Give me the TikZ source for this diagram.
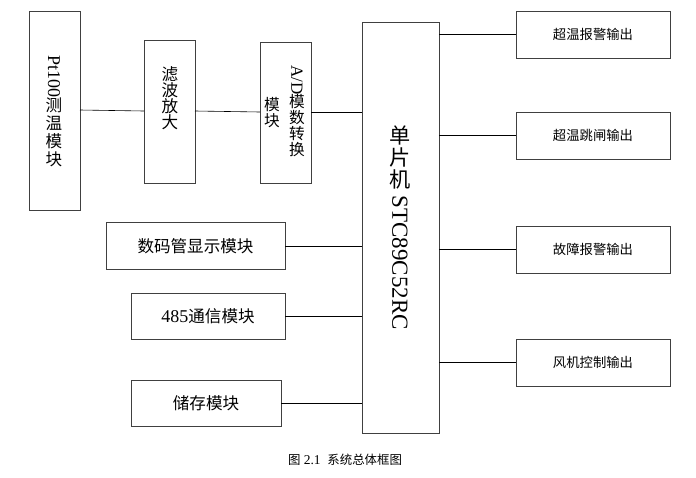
\documentclass[tikz,border=0pt]{standalone}
\usepackage{fontspec}
\setmainfont{Liberation Serif}
\newfontfamily\cjk{Noto Sans CJK SC}[Scale=0.92]
\begin{document}
\begin{tikzpicture}[x=1pt,y=-1pt,
  blk/.style={draw=black!75,line width=0.9pt},
  wire/.style={draw=black,line width=0.6pt},
  lab/.style={inner sep=0pt,font=\fontsize{17}{19}\selectfont,align=center},
  olab/.style={inner sep=0pt,font=\cjk\fontsize{14.5}{15}\selectfont}]
\useasboundingbox (0,0) rectangle (696,477);
% boxes
\draw[blk] (29,11) rectangle (80,210);
\node[lab,font=\fontsize{18}{21}\selectfont] (ptl) at (54,111) {\rotatebox{-90}{Pt100}\\[-1pt]{\cjk 测}\\[-3pt]{\cjk 温}\\[-3pt]{\cjk 模}\\[-3pt]{\cjk 块}};
\draw[blk] (144,40) rectangle (195,183);
\node[lab,font=\cjk\fontsize{18}{20}\selectfont] (fl) at (170,98) {滤\\[-4pt]波\\[-4pt]放\\[-4pt]大};
\draw[blk] (260,42) rectangle (311,183);
\node[lab,font=\fontsize{17}{20}\selectfont] (ad1) at (297,111) {\rotatebox{-90}{A/D}\\[-1pt]{\cjk 模}\\[-4pt]{\cjk 数}\\[-4pt]{\cjk 转}\\[-4pt]{\cjk 换}};
\node[lab,font=\cjk\fontsize{17}{20}\selectfont] (ad2) at (272,113) {模\\[-4pt]块};
\draw[blk] (362,22) rectangle (439,433);
\node[lab,font=\fontsize{23}{25}\selectfont] (mcu) at (400,228) {{\cjk 单}\\[-3pt]{\cjk 片}\\[-3pt]{\cjk 机}\\[-17pt]\rotatebox{-90}{STC89C52RC}};
\node[blk,minimum width=179pt,minimum height=47pt,inner sep=0pt,font=\cjk\fontsize{18}{19}\selectfont] (disp) at (195.5,246) {数码管显示模块};
\node[blk,minimum width=154pt,minimum height=46pt,inner sep=0pt,font=\fontsize{18}{19}\selectfont] (c485) at (208,316) {485{\cjk 通信模块}};
\node[blk,minimum width=150pt,minimum height=46pt,inner sep=0pt,font=\cjk\fontsize{18}{19}\selectfont] (mem) at (206,403) {储存模块};
\foreach \n/\y/\t in {o1/34.5/超温报警输出,o2/135.5/超温跳闸输出,o3/249.5/故障报警输出,o4/362.5/风机控制输出}{
  \node[blk,minimum width=154pt,minimum height=47pt,inner sep=0pt,olab] (\n) at (593,\y) {\t};
  \draw[wire] (439,\y) -- (\n.west);
}
% wires
\coordinate (p1) at (80,110); \coordinate (p2) at (144,111);
\coordinate (p3) at (195,111); \coordinate (p4) at (260,112);
\coordinate (p5) at (311,112); \coordinate (p6) at (362,112);
\draw[wire] (p1) -- (p2);
\draw[wire] (p3) -- (p4);
\draw[wire] (p5) -- (p6);
\draw[wire] (disp.east) -- (362,246);
\draw[wire] (c485.east) -- (362,316);
\draw[wire] (mem.east) -- (362,403);
\node[inner sep=0pt,font=\fontsize{13.5}{15}\selectfont] (cap) at (345,460) {{\cjk 图} 2.1\ \ {\cjk 系统总体框图}};
\end{tikzpicture}
\end{document}
